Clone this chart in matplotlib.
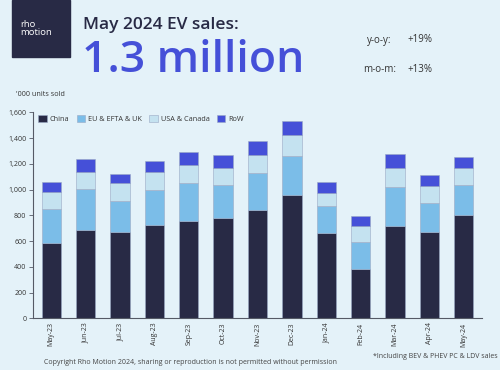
import matplotlib
matplotlib.use("Agg")
import matplotlib.pyplot as plt
from matplotlib.patches import Rectangle
import numpy as np

months = ["May-23", "Jun-23", "Jul-23", "Aug-23", "Sep-23", "Oct-23", "Nov-23",
          "Dec-23", "Jan-24", "Feb-24", "Mar-24", "Apr-24", "May-24"]
china = [587, 683, 668, 722, 756, 777, 843, 955, 663, 383, 715, 668, 805]
eu = [262, 321, 241, 275, 293, 256, 286, 306, 209, 210, 305, 225, 233]
usa = [132, 135, 140, 142, 142, 137, 139, 165, 104, 126, 147, 137, 129]
row = [75, 96, 72, 83, 98, 98, 107, 106, 85, 73, 109, 80, 83]
series_names = ["China", "EU & EFTA & UK", "USA & Canada", "RoW"]
series_colors = ["#282A45", "#7BBDE8", "#C4E2F0", "#4550D8"]
yticks = [0, 200, 400, 600, 800, 1000, 1200, 1400, 1600]

BG = "#E4F2F9"
DARK = "#282A45"
FONT = ["Open Sans", "DejaVu Sans"]
plt.rcParams["font.family"] = FONT

fig = plt.figure(figsize=(5, 3.7), dpi=100)
fig.patch.set_facecolor(BG)

ax = fig.add_axes([0.0667, 0.1397, 0.8966, 0.5568])
ax.set_facecolor(BG)
x = np.arange(len(months))
bottom = np.zeros(len(months))
for vals, name, col in zip([china, eu, usa, row], series_names, series_colors):
    ax.bar(x, vals, bottom=bottom, width=0.56, color=col, label=name,
           edgecolor="#9AA9C4", linewidth=0.4)
    bottom += np.array(vals)

ax.set_xlim(-0.52, 12.52)
ax.set_ylim(0, 1600)
ax.set_yticks(yticks)
ax.set_yticklabels([f"{v:,}" for v in yticks], fontsize=5, color="#333333")
ax.set_xticks(x)
ax.set_xticklabels(months, rotation=90, fontsize=5, color="#333333")
for s in ["top", "right"]:
    ax.spines[s].set_visible(False)
for s in ["left", "bottom"]:
    ax.spines[s].set_color("#555a66")
    ax.spines[s].set_linewidth(0.8)
ax.tick_params(axis="y", length=3, width=0.6, color="#555a66", pad=2)
ax.tick_params(axis="x", length=0, pad=3)

leg = ax.legend(loc="upper left", ncol=4, frameon=False, fontsize=5.2,
                handlelength=1.15, handleheight=1.1, columnspacing=1.0,
                handletextpad=0.45, bbox_to_anchor=(0.0, 1.012),
                labelcolor="#333333", borderaxespad=0.3)

# Logo
fig.patches.append(Rectangle((12 / 500, 1 - 57 / 370), 58 / 500, 57 / 370,
                             transform=fig.transFigure, color=DARK, zorder=0))
fig.text(20 / 500, 1 - 28.5 / 370, "rho\nmotion", color="white", fontsize=6.8,
         va="center", ha="left", linespacing=0.85)

fig.text(83 / 500, 1 - 25 / 370, "May 2024 EV sales:", fontsize=12.5, fontweight="semibold",
         color=DARK, va="center", ha="left")
fig.text(82 / 500, 1 - 60 / 370, "1.3 million", fontsize=32, fontweight="semibold",
         color="#4550D8", va="center", ha="left")

fig.text(391 / 500, 1 - 40 / 370, "y-o-y:", fontsize=7, color="#333333", va="center", ha="right")
fig.text(407 / 500, 1 - 40 / 370, "+19%", fontsize=7, color="#333333", va="center", ha="left")
fig.text(396 / 500, 1 - 69 / 370, "m-o-m:", fontsize=7, color="#333333", va="center", ha="right")
fig.text(407 / 500, 1 - 69 / 370, "+13%", fontsize=7, color="#333333", va="center", ha="left")

fig.text(16 / 500, 1 - 94 / 370, "'000 units sold", fontsize=5.2, color="#333333",
         va="center", ha="left")
fig.text(44 / 500, 1 - 362 / 370,
         "Copyright Rho Motion 2024, sharing or reproduction is not permitted without permission",
         fontsize=5, color="#444444", va="center", ha="left")
fig.text(498 / 500, 1 - 357 / 370, "*Including BEV & PHEV PC & LDV sales",
         fontsize=5, color="#444444", va="center", ha="right")

fig.savefig("out.png", dpi=100, facecolor=BG)
